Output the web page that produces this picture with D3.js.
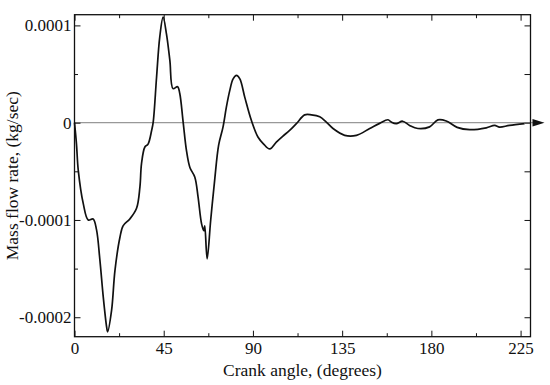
<!DOCTYPE html>
<html>
<head>
<meta charset="utf-8">
<script src="https://cdn.jsdelivr.net/npm/d3@7"></script>
<style>
  html, body { margin: 0; padding: 0; background: #fff; }
  svg { display: block; }
  text { font-family: "Liberation Serif", "Times New Roman", serif; fill: #111; }
</style>
</head>
<body>
<svg id="chart" width="550" height="385"></svg>
<script>
// Crank angle (degrees)
const angles = [0, 1.0, 1.9, 4.4, 6.9, 9.4, 11.1, 12.8, 14.5, 16.2, 16.7, 18.7, 20.4, 22.9, 24.5, 27.9,
  31.3, 33.0, 33.8, 35.5, 37.1, 38.9, 39.7, 41.4, 43.0, 44.7, 46.4, 48.1, 49.7, 52.0, 53.1,
  54.8, 56.5, 58.2, 60.7, 62.3, 64.1, 65.2, 65.7, 66.9, 68.7, 70.7, 72.7, 74.9, 76.6, 78.3,
  80.0, 81.7, 83.4, 85.9, 89.2, 92.6, 95.4, 98.5, 101.8, 105.0, 108.5, 111.9, 116.1, 119.5,
  123.7, 127.0, 130.4, 136.3, 142.2, 148.9, 153.9, 158.1, 159.8, 162.3, 165.5, 169.0, 173.2,
  179.1, 183.3, 187.5, 193.0, 199.3, 207.7, 211.9, 214.4, 219.4, 227.0];
// Mass flow rate (kg/sec)
const flow = [0, -0.000022, -0.000049, -0.000083, -0.000100, -0.000099, -0.000110, -0.000141,
  -0.000179, -0.000210, -0.000215, -0.000193, -0.000152, -0.000118, -0.000106, -0.000099,
  -0.000088, -0.000066, -0.000042, -0.000025, -0.000022, -0.000008, 0.0000006, 0.000047,
  0.000088, 0.0001085, 0.000091, 0.000064, 0.000035, 0.000037, 0.000030, 0.0000006,
  -0.000029, -0.000046, -0.000056, -0.000076, -0.000104, -0.000111, -0.000106, -0.000140,
  -0.000100, -0.000059, -0.000023, -0.0000045, 0.000016, 0.000033, 0.000045, 0.0000486,
  0.000045, 0.000026, 0.0000024, -0.000015, -0.000022, -0.000027, -0.000020, -0.000014,
  -0.000008, -0.000001, 0.000008, 0.000008, 0.000006, 0.0000006, -0.000006, -0.000013,
  -0.000013, -0.000006, -0.0000007, 0.000003, 0.0000006, -0.000001, 0.0000015, -0.0000028,
  -0.000006, -0.0000043, 0.0000029, 0.0000018, -0.0000048, -0.0000072, -0.0000053,
  -0.0000028, -0.0000045, -0.0000028, -0.000001];

const xTicks = [0, 45, 90, 135, 180, 225];
const xMinorTicks = [22.5, 67.5, 112.5, 157.5, 202.5];
const yTicks = [0.0001, 0, -0.0001, -0.0002];
const yTickLabels = ["0.0001", "0", "-0.0001", "-0.0002"];
const yMinorTicks = [0.00005, -0.00005, -0.00015];
const xTitle = "Crank angle, (degrees)";
const yTitle = "Mass flow rate, (kg/sec)";

const svg = d3.select("#chart");
const x = d3.scaleLinear().domain([0, 230]).range([74.5, 530.5]);
const y = d3.scaleLinear().domain([-0.00022, 0.000111]).range([336.7, 14.7]);
const [x0, x1] = x.range();
const [y0, y1] = y.range();

function styleAxis(g) {
  g.select(".domain").remove();
  g.selectAll(".tick line").attr("stroke", "#111").attr("stroke-width", 1);
  g.selectAll(".tick text").style("font-size", "17px").attr("fill", "#111")
    .style("font-family", '"Liberation Serif", "Times New Roman", serif');
}

// zero line with arrow
svg.append("line")
  .attr("x1", x0).attr("x2", x1 + 4)
  .attr("y1", y(0)).attr("y2", y(0))
  .attr("stroke", "#999").attr("stroke-width", 1.3);
svg.append("path")
  .attr("d", `M${x1 + 2},${y(0) - 3.8}L${x1 + 14},${y(0)}L${x1 + 2},${y(0) + 3.8}Z`)
  .attr("fill", "#111");

// bottom axis
svg.append("g").attr("transform", `translate(0,${y0})`)
  .call(d3.axisBottom(x).tickValues(xTicks).tickSize(-6).tickSizeOuter(0).tickPadding(5)
    .tickFormat(d3.format("d")))
  .call(styleAxis);
svg.append("g").attr("transform", `translate(0,${y0})`)
  .call(d3.axisBottom(x).tickValues(xMinorTicks).tickSize(-3.5).tickSizeOuter(0).tickFormat(""))
  .call(styleAxis);
// top axis
svg.append("g").attr("transform", `translate(0,${y1})`)
  .call(d3.axisTop(x).tickValues(xTicks).tickSize(-6).tickSizeOuter(0).tickFormat(""))
  .call(styleAxis);
svg.append("g").attr("transform", `translate(0,${y1})`)
  .call(d3.axisTop(x).tickValues(xMinorTicks).tickSize(-3.5).tickSizeOuter(0).tickFormat(""))
  .call(styleAxis);
// left axis
svg.append("g").attr("transform", `translate(${x0},0)`)
  .call(d3.axisLeft(y).tickValues(yTicks).tickSize(-6).tickSizeOuter(0).tickPadding(3)
    .tickFormat((d, i) => yTickLabels[i]))
  .call(styleAxis);
svg.append("g").attr("transform", `translate(${x0},0)`)
  .call(d3.axisLeft(y).tickValues(yMinorTicks).tickSize(-3.5).tickSizeOuter(0).tickFormat(""))
  .call(styleAxis);
// right axis
svg.append("g").attr("transform", `translate(${x1},0)`)
  .call(d3.axisRight(y).tickValues(yTicks.concat(yMinorTicks)).tickSize(-6).tickSizeOuter(0).tickFormat(""))
  .call(styleAxis);

// frame
svg.append("rect")
  .attr("x", x0).attr("y", y1).attr("width", x1 - x0).attr("height", y0 - y1)
  .attr("fill", "none").attr("stroke", "#111").attr("stroke-width", 1.3);

// curve
const line = d3.line()
  .x((d, i) => x(angles[i]))
  .y(d => y(d))
  .curve(d3.curveCatmullRom.alpha(0.5));
svg.append("path")
  .datum(flow)
  .attr("d", line)
  .attr("fill", "none")
  .attr("stroke", "#111")
  .attr("stroke-width", 1.7)
  .attr("stroke-linejoin", "round");

// titles
svg.append("text")
  .attr("x", (x0 + x1) / 2).attr("y", 376)
  .attr("text-anchor", "middle")
  .style("font-size", "17.5px")
  .text(xTitle);
svg.append("text")
  .attr("transform", `translate(17.5,${(y0 + y1) / 2}) rotate(-90)`)
  .attr("text-anchor", "middle")
  .style("font-size", "17.5px")
  .text(yTitle);
</script>
</body>
</html>
